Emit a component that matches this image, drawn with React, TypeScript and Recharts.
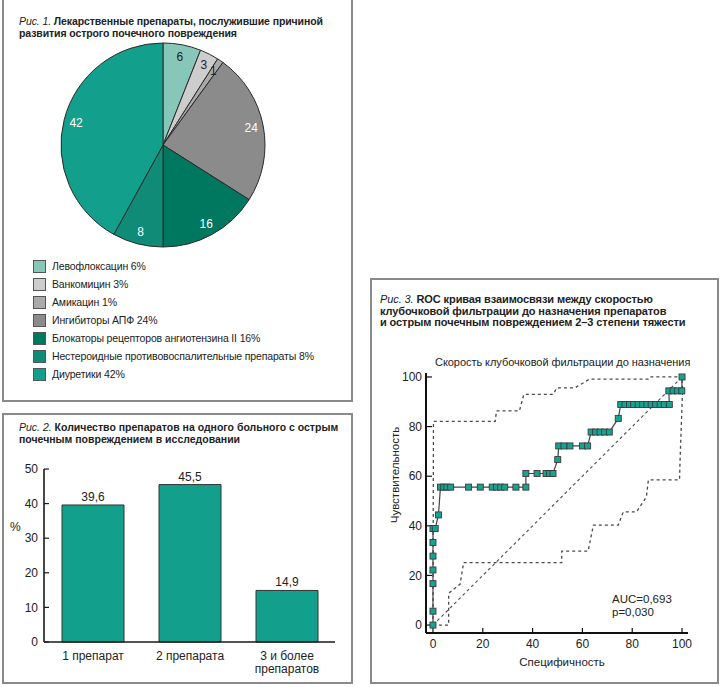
import React from 'react';
import {
  PieChart, Pie, Cell, BarChart, Bar, XAxis, YAxis, LabelList,
  ScatterChart, Scatter,
} from 'recharts';

const FONT = '"Liberation Sans", Arial, Helvetica, sans-serif';
const INK = '#222';
const RADIAN = Math.PI / 180;

// Рис. 1
const pieNames = [
  'Левофлоксацин', 'Ванкомицин', 'Амикацин', 'Ингибиторы АПФ',
  'Блокаторы рецепторов ангиотензина II', 'Нестероидные противовоспалительные препараты', 'Диуретики',
];
const pieValues = [6, 3, 1, 24, 16, 8, 42];
const pieColors = ['#86c7b9', '#cdcdcd', '#aaaaaa', '#8b8b8b', '#00775f', '#0f8b78', '#12a08c'];
const pieTextColors = [INK, INK, INK, '#fff', '#fff', '#fff', '#fff'];

// Рис. 2
const barCategories = ['1 препарат', '2 препарата', '3 и более\nпрепаратов'];
const barValues = [39.6, 45.5, 14.9];
const barTicks = [0, 10, 20, 30, 40, 50];
const barLabelSlots = [0.5, 1.5, 2.5];
const barBoundaries = [1, 2, 3];

// Рис. 3
const rocSpecificity = [
  0, 0, 0, 0, 0, 0, 0, 0.9, 2.2, 3.0, 4.3, 5.6, 7.1, 14.3, 19.0, 23.8, 25.5, 27.2, 28.8, 33.3, 37.3,
  37.3, 41.8, 45.4, 46.8, 48.2, 50.1, 50.5, 52.6, 55.0, 60.0, 62.1, 63.5, 65.3, 67.1, 68.9, 70.8, 74.4,
  75.4, 77.1, 78.9, 80.6, 82.4, 84.2, 85.9, 87.6, 89.4, 91.2, 92.9, 94.9, 94.7, 96.4, 98.1, 99.9, 100,
];
const rocSensitivity = [
  0, 5.6, 16.7, 22.2, 27.8, 33.3, 38.9, 38.9, 44.4, 55.6, 55.6, 55.6, 55.6, 55.6, 55.6, 55.6, 55.6, 55.6, 55.6, 55.6, 55.6,
  61.1, 61.1, 61.1, 61.1, 61.1, 66.7, 72.2, 72.2, 72.2, 72.2, 72.2, 77.8, 77.8, 77.8, 77.8, 77.8, 83.3,
  88.9, 88.9, 88.9, 88.9, 88.9, 88.9, 88.9, 88.9, 88.9, 88.9, 88.9, 88.9, 94.4, 94.4, 94.4, 94.4, 100,
];
const upperX = [0, 0.2, 25.0, 25.5, 34.7, 36.5, 48.3, 49.7, 57.0, 62.8, 86.5, 87.1, 100];
const upperY = [0, 82.1, 82.1, 86.3, 86.3, 93.0, 93.0, 95.6, 95.6, 99.1, 99.1, 100, 100];
const lowerX = [0, 6.3, 6.3, 10.9, 12.3, 51.7, 51.7, 62.3, 64.4, 74.4, 76.4, 81.7, 85.7, 86.5, 99.0, 99.2, 100.2, 100];
const lowerY = [0, 0, 12.8, 16.5, 25.2, 25.2, 29.8, 29.8, 40.3, 40.3, 45.6, 45.6, 51.7, 58.5, 58.5, 66.0, 94.4, 100];
const diagX = [0, 100];
const diagY = [0, 100];
const rocTicks = [0, 20, 40, 60, 80, 100];

const pieData = pieNames.map((name, i) => ({ name, value: pieValues[i] }));
const barData = barCategories.map((name, i) => ({ name, slot: barLabelSlots[i], value: barValues[i] }));
const barBasePoints = barLabelSlots.map((slot) => ({ slot, value: 0 }));
const toPoints = (xs: number[], ys: number[]) => xs.map((x, i) => ({ x, y: ys[i] }));

const Panel = ({ left, top, width, height }: any) => (
  <div style={{
    position: 'absolute', left, top, width, height, boxSizing: 'border-box',
    border: '2px solid #8a8a8a',
  }} />
);

const Title = ({ left, top, fig, lines, size = 10.5, spacing = -0.1 }: any) => (
  <div style={{
    position: 'absolute', left, top, fontFamily: FONT, fontSize: size, lineHeight: '11.5px',
    letterSpacing: spacing, color: INK, whiteSpace: 'nowrap',
  }}>
    {lines.map((l: string, i: number) => (
      <div key={i}>
        {i === 0 && <span style={{ fontStyle: 'italic' }}>{fig} </span>}
        <span style={{ fontWeight: 'bold' }}>{l}</span>
      </div>
    ))}
  </div>
);

const renderPieLabel = (props: any) => {
  const { cx, cy, midAngle, outerRadius, index, value } = props;
  const r = outerRadius * 0.88;
  const x = cx + r * Math.cos(-midAngle * RADIAN);
  const y = cy + r * Math.sin(-midAngle * RADIAN);
  return (
    <text x={x} y={y} fill={pieTextColors[index]} textAnchor="middle" dominantBaseline="central"
      fontSize={12} fontFamily={FONT}>
      {value}
    </text>
  );
};

// category name under each bar, split on line breaks
const renderCategoryLabel = (props: any) => {
  const { x, y, width, height, value } = props;
  const cx = Number(x) + Number(width) / 2;
  const top = Number(y) + Number(height) + 9;
  const lines = String(value).split('\n');
  return (
    <text x={cx} y={top} textAnchor="middle" fontSize={12} fontFamily={FONT} fill={INK}>
      {lines.map((l, i) => (
        <tspan key={i} x={cx} dy={i === 0 ? '0.71em' : 13}>{l}</tspan>
      ))}
    </text>
  );
};

const squareShape = (props: any) => (
  <rect x={props.cx - 3} y={props.cy - 3} width={6} height={6} fill="#17a392" stroke="#3a3a3a" strokeWidth={0.9} />
);
const noShape = () => <g />;
const dashed = { stroke: '#4a4a4a', strokeWidth: 1.3, strokeDasharray: '3 3' };
const axisStroke = { stroke: '#1a1a1a', strokeWidth: 1.6 };
const tickStroke = { stroke: '#1a1a1a', strokeWidth: 1.2 };
const barMargin = { top: 19, right: 15, left: 10, bottom: 37 };

export default function App() {
  const tickStyle = { fontSize: 12, fontFamily: FONT, fill: INK };
  return (
    <div style={{ position: 'absolute', left: 0, top: 0, width: 720, height: 687, background: '#fff', overflow: 'hidden' }}>
      <Panel left={2} top={-4} width={351} height={406} />
      <Panel left={2} top={413} width={351} height={271} />
      <Panel left={370} top={278} width={349} height={406} />

      {/* Рис. 1 */}
      <Title left={19} top={16} fig="Рис. 1." lines={['Лекарственные препараты, послужившие причиной', 'развития острого почечного повреждения']} />
      <div style={{ position: 'absolute', left: 4, top: 40 }}>
        <PieChart width={320} height={220} margin={{ top: 0, right: 0, bottom: 0, left: 0 }}>
          <Pie data={pieData} dataKey="value" nameKey="name" cx={159} cy={105} outerRadius={102}
            startAngle={90} endAngle={-270} stroke="#2a2a2a" strokeWidth={1}
            labelLine={false} label={renderPieLabel} isAnimationActive={false}>
            {pieData.map((d, i) => <Cell key={d.name} fill={pieColors[i]} />)}
          </Pie>
        </PieChart>
      </div>
      {pieData.map((d, i) => (
        <div key={d.name} style={{ position: 'absolute', left: 33, top: 260 + i * 18, height: 12, display: 'flex', alignItems: 'center' }}>
          <div style={{ width: 11, height: 11, background: pieColors[i], border: '1px solid #555' }} />
          <span style={{ marginLeft: 6, fontFamily: FONT, fontSize: 10.5, letterSpacing: -0.15, color: INK, whiteSpace: 'nowrap' }}>
            {d.name} {d.value}%
          </span>
        </div>
      ))}

      {/* Рис. 2 */}
      <Title left={19} top={422} spacing={0} fig="Рис. 2." lines={['Количество препаратов на одного больного с острым', 'почечным повреждением в исследовании']} />
      <div style={{ position: 'absolute', left: 10, top: 520, fontFamily: FONT, fontSize: 12, color: INK }}>%</div>
      <div style={{ position: 'absolute', left: 4, top: 450 }}>
        <BarChart width={346} height={230} data={barData} margin={barMargin}>
          <XAxis type="number" dataKey="slot" domain={[0, 3]} height={1}
            tick={false} tickLine={false} axisLine={false} />
          <YAxis width={30} domain={[0, 50]} ticks={barTicks} tickSize={-5} tickMargin={11}
            axisLine={axisStroke} tickLine={tickStroke} tick={tickStyle} />
          <Bar dataKey="value" barSize={62} fill="#12a08c" stroke="#333" strokeWidth={1} isAnimationActive={false}>
            <LabelList dataKey="value" position="top" offset={4} fontSize={12} fontFamily={FONT} fill={INK}
              formatter={(v: any) => String(v).replace('.', ',')} />
            <LabelList dataKey="name" content={renderCategoryLabel} />
          </Bar>
        </BarChart>
      </div>
      {/* baseline axis of Рис. 2 with tick marks between the categories, same frame as the bar chart */}
      <div style={{ position: 'absolute', left: 4, top: 450, zIndex: 5, pointerEvents: 'none' }}>
        <ScatterChart width={346} height={230} margin={barMargin}>
          <XAxis type="number" dataKey="slot" domain={[0, 3]} ticks={barBoundaries} interval={0} height={1}
            tick={false} tickSize={-6} axisLine={axisStroke} tickLine={tickStroke} />
          <YAxis type="number" dataKey="value" width={30} domain={[0, 50]} tick={false} tickLine={false} axisLine={false} />
          <Scatter data={barBasePoints} shape={noShape} isAnimationActive={false} />
        </ScatterChart>
      </div>

      {/* Рис. 3 */}
      <Title left={380} top={294} size={11} spacing={-0.1} fig="Рис. 3." lines={['ROC кривая взаимосвязи между скоростью', 'клубочковой фильтрации до назначения препаратов', 'и острым почечным повреждением 2–3 степени тяжести']} />
      <div style={{ position: 'absolute', left: 435, top: 356, fontFamily: FONT, fontSize: 11, letterSpacing: -0.05, color: INK, whiteSpace: 'nowrap' }}>
        Скорость клубочковой фильтрации до назначения
      </div>
      <div style={{
        position: 'absolute', left: 395, top: 475, fontFamily: FONT, fontSize: 11.5, color: INK, whiteSpace: 'nowrap',
        transform: 'translate(-50%, -50%) rotate(-90deg)',
      }}>
        Чувствительность
      </div>
      <div style={{ position: 'absolute', left: 562, top: 662, fontFamily: FONT, fontSize: 11.5, color: INK, whiteSpace: 'nowrap', transform: 'translate(-50%, -50%)' }}>
        Специфичность
      </div>
      <div style={{ position: 'absolute', left: 612, top: 593, fontFamily: FONT, fontSize: 11.5, lineHeight: '13px', color: INK }}>
        <div>AUC=0,693</div>
        <div>p=0,030</div>
      </div>
      <div style={{ position: 'absolute', left: 372, top: 340 }}>
        <ScatterChart width={346} height={340} margin={{ top: 33, right: 30, left: 14, bottom: 17 }}>
          <XAxis type="number" dataKey="x" domain={[-2.8, 102.4]} ticks={rocTicks} allowDataOverflow height={30}
            tickSize={-5} tickMargin={11} tick={tickStyle}
            axisLine={{ stroke: '#111', strokeWidth: 2 }} tickLine={{ stroke: '#111', strokeWidth: 1.2 }} />
          <YAxis type="number" dataKey="y" domain={[-3.2, 101.6]} ticks={rocTicks} allowDataOverflow width={40}
            tickSize={-6} tickMargin={10} tick={tickStyle}
            axisLine={{ stroke: '#111', strokeWidth: 2 }} tickLine={{ stroke: '#111', strokeWidth: 1.2 }} />
          <Scatter data={toPoints(diagX, diagY)} line={{ ...dashed, strokeWidth: 1.1 }} shape={noShape} isAnimationActive={false} />
          <Scatter data={toPoints(upperX, upperY)} line={dashed} shape={noShape} isAnimationActive={false} />
          <Scatter data={toPoints(lowerX, lowerY)} line={dashed} shape={noShape} isAnimationActive={false} />
          <Scatter data={toPoints(rocSpecificity, rocSensitivity)} line={{ stroke: '#444', strokeWidth: 1.2 }}
            shape={squareShape} isAnimationActive={false} />
        </ScatterChart>
      </div>
    </div>
  );
}
